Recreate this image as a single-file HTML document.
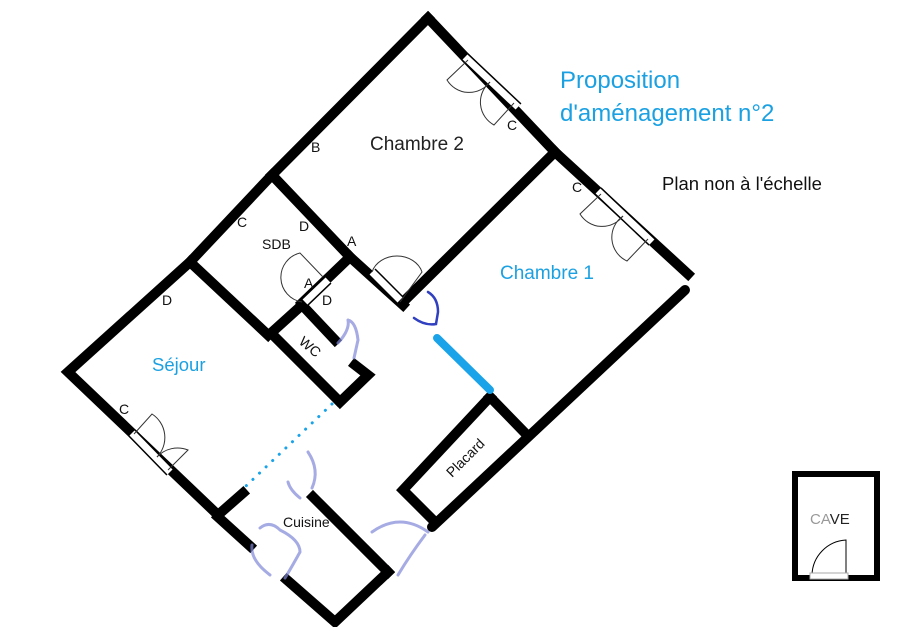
<!DOCTYPE html>
<html><head><meta charset="utf-8"><style>
html,body{margin:0;padding:0;background:#fff;}
svg{display:block;}
text{font-family:"Liberation Sans","DejaVu Sans",sans-serif;}
</style></head><body>
<svg width="902" height="627" viewBox="0 0 902 627" xmlns="http://www.w3.org/2000/svg">
<rect width="902" height="627" fill="#fff"/>
<g stroke="#000" stroke-width="10" stroke-linecap="square" fill="none">
<polyline points="428,18 272,175 190,262 68,372 218,515"/>
<polyline points="428,18 555,152 688,274"/>
<polyline points="555,152 403,302"/>
<polyline points="272,175 350,257 403,305"/>
<polyline points="350,257 302,303"/>
<polyline points="190,262 268,335"/>
<polyline points="302,305 271,333 338,400"/>
<polyline points="302,305 335,340"/>
<polyline points="355,365 368,375 340,402"/>
<polyline points="490,397 527,435"/>
<polyline points="490,397 403,490 435,522"/>
<polyline points="218,515 243,493"/>
<polyline points="218,517 250,546"/>
<polyline points="287,580 335,622 388,572"/>
<polyline points="313,497 388,572"/>
</g>
<line x1="685" y1="290" x2="432" y2="527" stroke="#000" stroke-width="10" stroke-linecap="round"/>
<g stroke-linecap="butt">
<line x1="465" y1="57" x2="518" y2="107" stroke="#000" stroke-width="10"/>
<line x1="465" y1="57" x2="518" y2="107" stroke="#fff" stroke-width="7"/>
<line x1="598" y1="191" x2="652" y2="242" stroke="#000" stroke-width="10"/>
<line x1="598" y1="191" x2="652" y2="242" stroke="#fff" stroke-width="7"/>
<line x1="132" y1="433" x2="170" y2="472" stroke="#000" stroke-width="10"/>
<line x1="132" y1="433" x2="170" y2="472" stroke="#fff" stroke-width="7"/>
<line x1="372" y1="272" x2="400" y2="300" stroke="#000" stroke-width="10"/>
<line x1="372" y1="272" x2="400" y2="300" stroke="#fff" stroke-width="7"/>
<line x1="328" y1="280" x2="305" y2="302" stroke="#000" stroke-width="10"/>
<line x1="328" y1="280" x2="305" y2="302" stroke="#fff" stroke-width="7"/>
</g>
<g stroke="#333" stroke-width="1" fill="none">
<path d="M468,60 L447,80 A26,26 0 0 0 490,82"/>
<path d="M514,103 L494,125 A26,26 0 0 1 490,82"/>
<path d="M601,194 L580,214 A26,26 0 0 0 623,216"/>
<path d="M648,239 L627,261 A26,26 0 0 1 623,216"/>
<path d="M134,434 L152,414 A28,28 0 0 1 157,457"/>
<path d="M168,470 L188,450 A28,28 0 0 0 157,457"/>
<path d="M400,302 L422,272 A26,22 0 0 0 372,272"/>
<path d="M323,277 L300,253 A25,25 0 0 0 302,302"/>
</g>
<g stroke="#3040c0" stroke-width="2.5" fill="none" stroke-linecap="round">
<path d="M428,292 Q438,298 438,312 L436,324 Q425,326 414,318"/>
</g>
<g stroke="#8088d8" stroke-width="3" fill="none" opacity="0.7" stroke-linecap="round">
<path d="M348,320 Q356,322 358,340 L354,358 M338,343 Q350,330 348,320"/>
<path d="M308,452 Q320,470 312,488 M300,498 Q290,490 288,482"/>
<path d="M372,532 Q400,512 428,532 M425,535 Q410,555 398,575"/>
<path d="M260,528 Q270,520 280,530 Q300,540 300,552 Q290,570 285,578 M252,545 Q250,560 270,575"/>
</g>
<line x1="437" y1="338" x2="490" y2="390" stroke="#1aa3e8" stroke-width="8" stroke-linecap="round"/>
<line x1="332" y1="404" x2="246" y2="486" stroke="#1aa3e8" stroke-width="3" stroke-dasharray="0.1 9" stroke-linecap="round"/>
<rect x="792" y="471" width="88" height="110" fill="#000"/>
<rect x="798" y="477" width="76" height="98" fill="#fff"/>
<path d="M812,575 A36,36 0 0 1 846,540 L846,575" stroke="#000" stroke-width="1" fill="none"/>
<rect x="810" y="573" width="38" height="6" fill="#fff" stroke="#aaa" stroke-width="1"/>
<text x="810" y="524" font-size="15" fill="#222"><tspan fill="#999">CA</tspan>VE</text>
<text x="560" y="88" font-size="24" fill="#1ba1e2">Proposition</text>
<text x="560" y="121" font-size="24" fill="#1ba1e2">d'aménagement n°2</text>
<text x="662" y="190" font-size="18.5" fill="#111">Plan non à l'échelle</text>
<text x="370" y="150" font-size="19" fill="#222">Chambre 2</text>
<text x="500" y="279" font-size="19" fill="#1ba1e2">Chambre 1</text>
<text x="152" y="371" font-size="18.5" fill="#1ba1e2">Séjour</text>
<g font-size="14" fill="#111">
<text x="311" y="152">B</text>
<text x="237" y="227">C</text>
<text x="299" y="231">D</text>
<text x="262" y="249">SDB</text>
<text x="347" y="246">A</text>
<text x="304" y="288">A</text>
<text x="322" y="305">D</text>
<text x="162" y="305">D</text>
<text x="119" y="414">C</text>
<text x="507" y="130">C</text>
<text x="572" y="192">C</text>
<text x="283" y="527">Cuisine</text>
<text x="0" y="0" transform="translate(298,343) rotate(40)">WC</text>
<text x="0" y="0" transform="translate(452,478) rotate(-45)">Placard</text>
</g>
</svg>
</body></html>
